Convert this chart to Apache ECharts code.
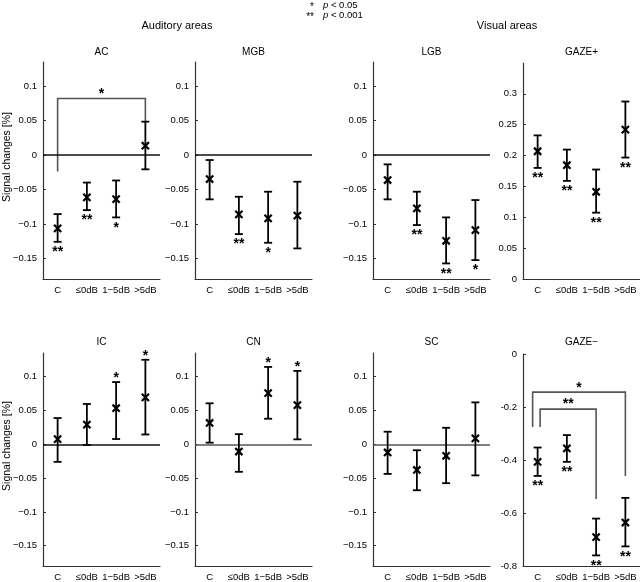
<!DOCTYPE html>
<html><head><meta charset="utf-8">
<script src="https://cdn.jsdelivr.net/npm/echarts@6/dist/echarts.min.js"></script>
<style>html,body{margin:0;padding:0;background:#fff}#c{width:640px;height:582px}</style>
</head><body><div id="c"></div>
<script>
// ---------- data ----------
const categories = ['C', '≤0dB', '1−5dB', '>5dB'];
const panelNames = ['AC', 'MGB', 'LGB', 'GAZE+', 'IC', 'CN', 'SC', 'GAZE−'];
const groupTitles = ['Auditory areas', 'Visual areas'];
const yAxisName = 'Signal changes [%]';

const acMean = [-0.1066, -0.0615, -0.064, 0.0135];
const acLow  = [-0.126, -0.080, -0.0906, -0.0208];
const acHigh = [-0.0858, -0.040, -0.037, 0.0484];
const acSig  = ['**', '**', '*', ''];

const mgbMean = [-0.0349, -0.0862, -0.092, -0.088];
const mgbLow  = [-0.0644, -0.1148, -0.1274, -0.1356];
const mgbHigh = [-0.0073, -0.0606, -0.0533, -0.0388];
const mgbSig  = ['', '**', '*', ''];

const lgbMean = [-0.0363, -0.0775, -0.1245, -0.109];
const lgbLow  = [-0.0644, -0.1017, -0.1574, -0.1526];
const lgbHigh = [-0.0136, -0.0533, -0.0906, -0.0654];
const lgbSig  = ['', '**', '**', '*'];

const gazePMean = [0.207, 0.1844, 0.1413, 0.242];
const gazePLow  = [0.180, 0.159, 0.1075, 0.1968];
const gazePHigh = [0.2327, 0.2097, 0.1774, 0.2876];
const gazePSig  = ['**', '**', '**', '**'];

const icMean = [0.0077, 0.029, 0.0533, 0.0693];
const icLow  = [-0.026, -0.001, 0.0078, 0.0145];
const icHigh = [0.0388, 0.0596, 0.092, 0.125];
const icSig  = ['', '', '*', '*'];

const cnMean = [0.0315, -0.0107, 0.0756, 0.058];
const cnLow  = [0.0024, -0.0407, 0.0378, 0.0073];
const cnHigh = [0.0606, 0.015, 0.1144, 0.1085];
const cnSig  = ['', '', '*', '*'];

const scMean = [-0.0121, -0.038, -0.017, 0.0088];
const scLow  = [-0.0438, -0.068, -0.0575, -0.046];
const scHigh = [0.0186, -0.0088, 0.0244, 0.062];
const scSig  = ['', '', '', ''];

const gazeMMean = [-0.407, -0.356, -0.691, -0.636];
const gazeMLow  = [-0.46, -0.407, -0.760, -0.726];
const gazeMHigh = [-0.353, -0.306, -0.621, -0.543];
const gazeMSig  = ['**', '**', '**', '**'];

// brackets: [fromCat, toCat, topValue, leftLegEnd, rightLegEnd]
const acBrackets = [[0, 3, 0.082, -0.024, 0.048]];
const acBracketLabels = ['*'];
const gazeMBrackets = [[0, 3, -0.144, -0.275, -0.46], [0, 2, -0.208, -0.275, -0.547]];
const gazeMBracketLabels = ['*', '**'];

const smallTicks = [-0.15, -0.1, -0.05, 0, 0.05, 0.1];
const gazePTicks = [0, 0.05, 0.1, 0.15, 0.2, 0.25, 0.3];
const gazeMTicks = [-0.8, -0.6, -0.4, -0.2, 0];

// ---------- layout / style ----------
const FONT = "'Liberation Sans', Arial, sans-serif";
const panels = [
  {mean: acMean, low: acLow, high: acHigh, sig: acSig, pos: 'below', left: 43, top: 62, h: 217, min: -0.18, max: 0.135, ticks: smallTicks, zero: '#111'},
  {mean: mgbMean, low: mgbLow, high: mgbHigh, sig: mgbSig, pos: 'below', left: 195, top: 62, h: 217, min: -0.18, max: 0.135, ticks: smallTicks, zero: '#111'},
  {mean: lgbMean, low: lgbLow, high: lgbHigh, sig: lgbSig, pos: 'below', left: 373, top: 62, h: 217, min: -0.18, max: 0.135, ticks: smallTicks, zero: '#111'},
  {mean: gazePMean, low: gazePLow, high: gazePHigh, sig: gazePSig, pos: 'below', left: 523, top: 63, h: 216, min: 0, max: 0.35, ticks: gazePTicks, zero: null},
  {mean: icMean, low: icLow, high: icHigh, sig: icSig, pos: 'above', left: 43, top: 353, h: 217, min: -0.18, max: 0.135, ticks: smallTicks, zero: '#111'},
  {mean: cnMean, low: cnLow, high: cnHigh, sig: cnSig, pos: 'above', left: 195, top: 353, h: 217, min: -0.18, max: 0.135, ticks: smallTicks, zero: '#555'},
  {mean: scMean, low: scLow, high: scHigh, sig: scSig, pos: 'below', left: 373, top: 353, h: 217, min: -0.18, max: 0.135, ticks: smallTicks, zero: '#555'},
  {mean: gazeMMean, low: gazeMLow, high: gazeMHigh, sig: gazeMSig, pos: 'below', left: 523, top: 354, h: 216, min: -0.8, max: 0, ticks: gazeMTicks, zero: null, hyphen: true}
];
const PW = 117;

function fmt(hyphen) {
  return function (v) {
    const r = Math.round(v * 1000) / 1000;
    if (r < 0) return (hyphen ? '-' : '−') + String(Math.abs(r));
    return String(r);
  };
}

const STAR = {fill: '#000', fontSize: 14, fontWeight: 'bold', fontFamily: FONT, align: 'center', verticalAlign: 'middle'};

function errRender(sig, pos) {
  return function (params, api) {
    const i = api.value(0);
    const m = api.coord([i, api.value(1)]);
    const lo = api.coord([i, api.value(2)]);
    const hi = api.coord([i, api.value(3)]);
    const x = m[0], cw = 4, ms = 3.6;
    const st = {stroke: '#000', lineWidth: 1.8};
    const sx = {stroke: '#000', lineWidth: 2.2};
    const ch = [
      {type: 'line', shape: {x1: x, y1: hi[1], x2: x, y2: lo[1]}, style: st},
      {type: 'line', shape: {x1: x - cw, y1: hi[1], x2: x + cw, y2: hi[1]}, style: st},
      {type: 'line', shape: {x1: x - cw, y1: lo[1], x2: x + cw, y2: lo[1]}, style: st},
      {type: 'line', shape: {x1: x - ms, y1: m[1] - ms, x2: x + ms, y2: m[1] + ms}, style: sx},
      {type: 'line', shape: {x1: x - ms, y1: m[1] + ms, x2: x + ms, y2: m[1] - ms}, style: sx}
    ];
    const s = sig[params.dataIndex];
    if (s) {
      ch.push({type: 'text', x: x, y: pos === 'above' ? hi[1] - 3.5 : lo[1] + 10.5,
        style: Object.assign({text: s}, STAR)});
    }
    return {type: 'group', children: ch};
  };
}

function bracketRender(labels, legOffsets) {
  return function (params, api) {
    const a = api.coord([api.value(0), api.value(2)]);
    const b = api.coord([api.value(1), api.value(2)]);
    const la = api.coord([api.value(0), api.value(3)]);
    const rb = api.coord([api.value(1), api.value(4)]);
    const off = legOffsets[params.dataIndex] || 0;
    const xa = a[0] + off, xb = b[0];
    const st = {stroke: '#555', lineWidth: 1.6, fill: null};
    return {type: 'group', children: [
      {type: 'polyline', shape: {points: [[xa, la[1]], [xa, a[1]], [xb, b[1]], [xb, rb[1]]]}, style: st},
      {type: 'text', x: (xa + xb) / 2, y: a[1] - 4.5, style: Object.assign({text: labels[params.dataIndex]}, STAR)}
    ]};
  };
}

const grid = [], xAxis = [], yAxis = [], series = [];
panels.forEach((p, k) => {
  grid.push({left: p.left, top: p.top, width: PW, height: p.h, containLabel: false});
  xAxis.push({
    gridIndex: k, type: 'category', data: categories, boundaryGap: true, position: 'bottom',
    axisLine: {onZero: false, lineStyle: {color: '#333', width: 1.2}},
    axisTick: {inside: true, alignWithLabel: true, length: 3, lineStyle: {color: '#333'}},
    axisLabel: {interval: 0, fontSize: 9.5, color: '#000', margin: 6, fontFamily: FONT},
    splitLine: {show: false}
  });
  yAxis.push({
    gridIndex: k, type: 'value', min: p.min, max: p.max,
    axisLine: {show: true, onZero: false, lineStyle: {color: '#333', width: 1.2}},
    axisTick: {show: true, inside: true, length: 3, customValues: p.ticks, lineStyle: {color: '#333'}},
    axisLabel: {customValues: p.ticks, fontSize: 9.5, color: '#000', margin: 6, fontFamily: FONT, formatter: fmt(p.hyphen)},
    splitLine: {show: false}
  });
  const data = p.mean.map((v, i) => [i, v, p.low[i], p.high[i]]);
  const s = {
    type: 'custom', xAxisIndex: k, yAxisIndex: k, data: data,
    renderItem: errRender(p.sig, p.pos), silent: true, z: 5
  };
  if (p.zero) {
    s.markLine = {silent: true, symbol: ['none', 'none'], label: {show: false},
      lineStyle: {color: p.zero, width: 1.5, type: 'solid'}, data: [{yAxis: 0}], animation: false};
  }
  series.push(s);
});
series.push({type: 'custom', xAxisIndex: 0, yAxisIndex: 0, data: acBrackets, silent: true, z: 4,
  renderItem: bracketRender(acBracketLabels, [0])});
series.push({type: 'custom', xAxisIndex: 7, yAxisIndex: 7, data: gazeMBrackets, silent: true, z: 4,
  renderItem: bracketRender(gazeMBracketLabels, [-5, 2.5])});

const graphic = [];
panels.forEach((p, k) => {
  graphic.push({type: 'text', x: p.left + PW / 2, y: k < 4 ? 52 : 342,
    style: {text: panelNames[k], fill: '#000', fontSize: 10, fontFamily: FONT, align: 'center', verticalAlign: 'middle'}});
});
graphic.push({type: 'text', x: 177, y: 26, style: {text: groupTitles[0], fill: '#000', fontSize: 11, fontFamily: FONT, align: 'center', verticalAlign: 'middle'}});
graphic.push({type: 'text', x: 507, y: 26, style: {text: groupTitles[1], fill: '#000', fontSize: 11, fontFamily: FONT, align: 'center', verticalAlign: 'middle'}});
[157, 446].forEach(cy => {
  graphic.push({type: 'text', x: 7, y: cy, rotation: Math.PI / 2,
    style: {text: yAxisName, fill: '#000', fontSize: 10.5, fontFamily: FONT, align: 'center', verticalAlign: 'middle'}});
});
graphic.push({type: 'text', x: 314, y: 7, style: {text: '*', fill: '#000', fontSize: 10, fontFamily: FONT, align: 'right', verticalAlign: 'middle'}});
graphic.push({type: 'text', x: 314, y: 17, style: {text: '**', fill: '#000', fontSize: 10, fontFamily: FONT, align: 'right', verticalAlign: 'middle'}});
graphic.push({type: 'text', x: 323, y: 5, style: {text: '{i|p} < 0.05', fill: '#000', fontSize: 9.5, fontFamily: FONT, align: 'left', verticalAlign: 'middle',
  rich: {i: {fontStyle: 'italic', fontSize: 9.5, fontFamily: FONT}}}});
graphic.push({type: 'text', x: 323, y: 15, style: {text: '{i|p} < 0.001', fill: '#000', fontSize: 9.5, fontFamily: FONT, align: 'left', verticalAlign: 'middle',
  rich: {i: {fontStyle: 'italic', fontSize: 9.5, fontFamily: FONT}}}});

const chart = echarts.init(document.getElementById('c'), null, {renderer: 'canvas'});
chart.setOption({animation: false, backgroundColor: '#fff', grid, xAxis, yAxis, series, graphic});
</script>
</body></html>
